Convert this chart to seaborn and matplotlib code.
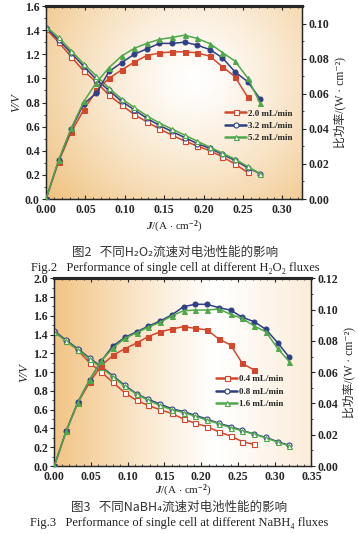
import numpy as np
import pandas as pd
import seaborn as sns
import matplotlib.pyplot as plt
from matplotlib.ticker import MultipleLocator

# ---- Fig.2 data (H2O2 flow) ----
j2 = [0.000, 0.016, 0.032, 0.048, 0.064, 0.080, 0.096, 0.112, 0.128,
      0.144, 0.160, 0.176, 0.192, 0.208, 0.224, 0.240, 0.256, 0.272]
labels2 = ['2.0 mL/min', '3.2 mL/min', '5.2 mL/min']
v2_a = [1.41, 1.30, 1.18, 1.06, 0.97, 0.86, 0.78, 0.70, 0.64, 0.58, 0.53, 0.48, 0.44, 0.40, 0.35, 0.29, 0.22]
v2_b = [1.42, 1.32, 1.21, 1.10, 0.99, 0.90, 0.81, 0.74, 0.67, 0.61, 0.56, 0.51, 0.46, 0.42, 0.37, 0.32, 0.26, 0.21]
v2_c = [1.43, 1.34, 1.23, 1.12, 1.02, 0.92, 0.83, 0.76, 0.69, 0.63, 0.58, 0.53, 0.48, 0.43, 0.38, 0.33, 0.27, 0.21]
p2_a = [0, 0.0213, 0.0382, 0.0509, 0.0619, 0.0688, 0.0736, 0.0780, 0.0818, 0.0832, 0.0839,
        0.0839, 0.0833, 0.0814, 0.0754, 0.0697, 0.0580]
p2_b = [0, 0.0220, 0.0399, 0.0543, 0.0603, 0.0727, 0.0777, 0.0825, 0.0856, 0.0887, 0.0887,
        0.0894, 0.0877, 0.0852, 0.0805, 0.0725, 0.0669, 0.0570]
p2_c = [0, 0.0222, 0.0404, 0.0556, 0.0664, 0.0749, 0.0815, 0.0859, 0.0887, 0.0910, 0.0921,
        0.0934, 0.0915, 0.0886, 0.0835, 0.0786, 0.0691, 0.0545]

# ---- Fig.3 data (NaBH4 flow) ----
j3 = [0.000, 0.016, 0.032, 0.048, 0.064, 0.080, 0.096, 0.112, 0.128, 0.144, 0.160,
      0.176, 0.192, 0.208, 0.224, 0.240, 0.256, 0.272, 0.288, 0.304, 0.320]
labels3 = ['0.4 mL/min', '0.8 mL/min', '1.6 mL/min']
v3_a = [1.43, 1.335, 1.235, 1.10, 1.00, 0.89, 0.78, 0.70, 0.645, 0.60, 0.56,
        0.50, 0.455, 0.42, 0.365, 0.32, 0.26, 0.23]
v3_b = [1.44, 1.34, 1.25, 1.15, 1.06, 0.96, 0.86, 0.77, 0.71, 0.66, 0.61,
        0.58, 0.54, 0.50, 0.455, 0.42, 0.38, 0.34, 0.305, 0.26, 0.22]
v3_c = [1.43, 1.33, 1.24, 1.14, 1.05, 0.95, 0.85, 0.765, 0.70, 0.645, 0.60,
        0.57, 0.53, 0.49, 0.45, 0.41, 0.375, 0.34, 0.30, 0.255, 0.215]
p3_a = [0, 0.0222, 0.0405, 0.0534, 0.0642, 0.0708, 0.0750, 0.0786, 0.0828, 0.0858, 0.0876,
        0.0891, 0.0880, 0.0870, 0.0812, 0.0774, 0.0656, 0.0614]
p3_b = [0, 0.0222, 0.0408, 0.0550, 0.0672, 0.0768, 0.0822, 0.0858, 0.0894, 0.0927, 0.0966,
        0.1019, 0.1034, 0.1034, 0.1012, 0.0997, 0.0951, 0.0923, 0.0874, 0.0789, 0.0695]
p3_c = [0, 0.0222, 0.0405, 0.0550, 0.0672, 0.0756, 0.0816, 0.0852, 0.0888, 0.0918, 0.0960,
        0.0993, 0.0997, 0.0997, 0.1004, 0.0970, 0.0944, 0.0895, 0.0859, 0.0752, 0.0667]

colors = ['#d4472c', '#2f3f86', '#4fa84a']
markers = ['s', 'o', '^']

sns.set_style('ticks')
plt.rcParams['font.family'] = ['Liberation Serif', 'DejaVu Serif']
plt.rcParams['font.weight'] = 'bold'
plt.rcParams['mathtext.fontset'] = 'custom'
plt.rcParams['mathtext.rm'] = 'Liberation Serif:bold'
plt.rcParams['mathtext.it'] = 'Liberation Serif:italic:bold'
plt.rcParams['mathtext.bf'] = 'Liberation Serif:bold'

fig = plt.figure(figsize=(3.58, 5.34), dpi=100)
ax_top = fig.add_axes([0.1285, 0.6273, 0.715, 0.3614])
ax_bot = fig.add_axes([0.1517, 0.1273, 0.718, 0.3515])


def background(ax, kind):
    X, Y = np.meshgrid(np.linspace(0, 1, 200), np.linspace(0, 1, 200))
    if kind == 'radial':
        d = np.sqrt(((X - 0.58) / 0.75) ** 2 + ((Y - 0.62) / 0.95) ** 2)
        t = np.clip(d, 0, 1) ** 1.3
        edge = np.array([0.94, 0.76, 0.50])
    else:
        t = np.where(X < 0.62, (0.62 - X) / 0.62, (X - 0.62) / 0.38 * 0.35)
        t = np.clip(t, 0, 1) ** 1.1
        edge = np.array([0.95, 0.77, 0.52])
    img = (1 - t[..., None]) * np.array([1.0, 1.0, 1.0]) + t[..., None] * edge
    ax.imshow(img, extent=[0, 1, 0, 1], transform=ax.transAxes, origin='lower',
              aspect='auto', zorder=-5)


def panel(ax, j, volts, powers, labels, xmax, ymax, y2max, leg_anchor, xpad):
    background(ax, 'radial' if xmax < 0.33 else 'linear')
    ax2 = ax.twinx()
    for i in range(3):
        jv = j[:len(volts[i])]
        sns.lineplot(x=jv, y=volts[i], ax=ax, color=colors[i], marker=markers[i],
                     markersize=3.6, markerfacecolor='white', markeredgecolor=colors[i],
                     markeredgewidth=0.8, linewidth=1.1, label=labels[i], zorder=3)
        jp = j[:len(powers[i])]
        sns.lineplot(x=jp, y=powers[i], ax=ax2, color=colors[i], marker=markers[i],
                     markersize=3.6, markerfacecolor=colors[i], markeredgecolor=colors[i],
                     linewidth=1.1, legend=False, zorder=3)
    ax.set_xlim(0, xmax)
    ax.set_ylim(0, ymax)
    ax2.set_ylim(0, y2max)
    ax.xaxis.set_major_locator(MultipleLocator(0.05))
    ax.xaxis.set_minor_locator(MultipleLocator(0.01))
    ax.yaxis.set_major_locator(MultipleLocator(0.2))
    ax.yaxis.set_minor_locator(MultipleLocator(0.1))
    ax2.yaxis.set_major_locator(MultipleLocator(0.02))
    ax2.yaxis.set_minor_locator(MultipleLocator(0.01))
    ax.xaxis.set_major_formatter(lambda v, p: f'{v:.2f}')
    ax.yaxis.set_major_formatter(lambda v, p: f'{v:.1f}')
    ax2.yaxis.set_major_formatter(lambda v, p: f'{v:.2f}')
    ax.tick_params(axis='x', which='both', direction='in', top=True, labelsize=8.5, pad=3.5)
    ax.tick_params(axis='x', which='major', length=3)
    ax.tick_params(axis='x', which='minor', length=1.5)
    ax.tick_params(axis='y', which='major', direction='out', length=3, labelsize=8.5, pad=1.5)
    ax.tick_params(axis='y', which='minor', direction='out', length=1.5)
    ax2.tick_params(axis='y', which='major', direction='out', length=3, labelsize=8.5, pad=1.5)
    ax2.tick_params(axis='y', which='minor', direction='out', length=1.5)
    for a in (ax, ax2):
        for s in a.spines.values():
            s.set_linewidth(0.9)
        a.spines['top'].set_linewidth(2.2)
    ax.set_xlabel(r'$\mathit{J}$/(A $\cdot$ cm$^{-2}$)', fontsize=8, labelpad=xpad)
    ax.set_ylabel('V/V', fontsize=9, style='italic', labelpad=2)
    ax2.set_ylabel('比功率/(W · cm⁻²)', fontsize=8.5, labelpad=3,
                   family=['Liberation Serif', 'Noto Sans CJK SC', 'DejaVu Sans'])
    leg = ax.legend(loc='upper left', bbox_to_anchor=leg_anchor, frameon=False, fontsize=6.5,
                    handlelength=2.3, handletextpad=0.2, labelspacing=0.45, borderpad=0,
                    borderaxespad=0)
    for h in leg.get_lines():
        h.set_linewidth(1.8)
    return ax2


panel(ax_top, j2, [v2_a, v2_b, v2_c], [p2_a, p2_b, p2_c], labels2,
      0.325, 1.6, 0.11, (0.70, 0.465), 2)
panel(ax_bot, j3, [v3_a, v3_b, v3_c], [p3_a, p3_b, p3_c], labels3,
      0.35, 2.0, 0.12, (0.63, 0.485), 0)

cjk = ['Noto Sans CJK SC', 'DejaVu Sans']
fig.text(0.49, 1 - 252 / 534, '图2   不同H₂O₂流速对电池性能的影响', family=cjk,
         fontsize=9, fontweight='normal', color='#333333', ha='center', va='center')
fig.text(0.49, 1 - 268 / 534, 'Fig.2   Performance of single cell at different H₂O₂ fluxes',
         fontsize=9, fontweight='normal', color='#222222', ha='center', va='center')
fig.text(0.5, 1 - 507 / 534, '图3   不同NaBH₄流速对电池性能的影响', family=cjk,
         fontsize=9, fontweight='normal', color='#333333', ha='center', va='center')
fig.text(0.5, 1 - 523 / 534, 'Fig.3   Performance of single cell at different NaBH₄ fluxes',
         fontsize=9, fontweight='normal', color='#222222', ha='center', va='center')

fig.savefig('out.png', dpi=100)
